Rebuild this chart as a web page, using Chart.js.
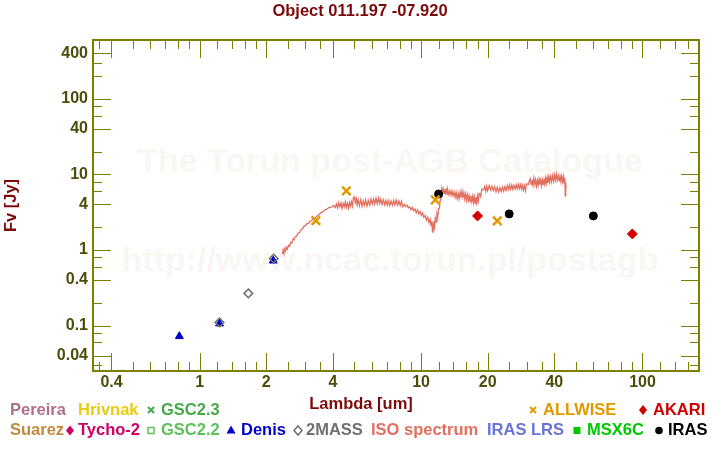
<!DOCTYPE html>
<html>
<head>
<meta charset="utf-8">
<script src="https://cdn.jsdelivr.net/npm/chart.js@4.4.1/dist/chart.umd.min.js"></script>
<style>
html,body{margin:0;padding:0;background:#ffffff;}
#wrap{position:relative;width:720px;height:450px;}
canvas{display:block;}
</style>
</head>
<body>
<div id="wrap"><canvas id="c" width="720" height="450"></canvas></div>
<script>
// ---------- texts ----------
const chartTitle = 'Object 011.197 -07.920';
const xAxisTitle = 'Lambda [um]';
const yAxisTitle = 'Fv [Jy]';
const watermarkLines = ['The Torun post-AGB Catalogue', 'http://www.ncac.torun.pl/postagb'];

// ---------- axes ----------
const xRange = [0.33, 180];
const yRange = [0.025, 600];
const xMajorTicks = [0.4, 1, 2, 4, 10, 20, 40, 100];
const xTickLabels = ['0.4', '1', '2', '4', '10', '20', '40', '100'];
const xMinorTicks = [0.35, 0.5, 0.6, 0.7, 0.8, 0.9, 1.2, 1.4, 1.6, 1.8, 2.5, 3, 3.5,
  5, 6, 7, 8, 9, 12, 14, 16, 18, 25, 30, 35, 50, 60, 70, 80, 90, 120, 140, 160];
const yMajorTicks = [400, 100, 40, 10, 4, 1, 0.4, 0.1, 0.04];
const yTickLabels = ['400', '100', '40', '10', '4', '1', '0.4', '0.1', '0.04'];
const yMinorTicks = [600, 300, 200, 80, 60, 20, 8, 6, 2, 0.8, 0.6, 0.2, 0.08, 0.06, 0.03];

// ---------- photometry (lambda [um], flux [Jy]) ----------
const allwiseLambda = [3.35, 4.6, 11.6, 22.1];
const allwiseFlux = [2.44, 6.05, 4.6, 2.42];
const akariLambda = [18.0, 90.0];
const akariFlux = [2.82, 1.63];
const irasLambda = [12.0, 25.0, 60.0];
const irasFlux = [5.5, 3.0, 2.82];
const tmassLambda = [1.23, 1.66, 2.16];
const tmassFlux = [0.110, 0.266, 0.77];
const denisLambda = [0.81, 1.23, 2.15];
const denisFlux = [0.072, 0.106, 0.72];

// ---------- ISO spectrum [lambda, flux] ----------
const isoSpectrum = [
 [2.37,0.88],[2.38,0.99],[2.40,0.91],[2.42,1.03],[2.44,0.97],[2.46,1.09],[2.49,1.02],[2.52,1.15],[2.55,1.12],
 [2.58,1.26],[2.61,1.24],[2.64,1.39],[2.67,1.36],[2.70,1.50],[2.74,1.51],[2.78,1.67],[2.82,1.68],[2.86,1.84],
 [2.90,1.86],[2.95,2.04],[3.00,2.08],[3.05,2.23],[3.10,2.25],[3.15,2.39],[3.20,2.43],[3.26,2.57],[3.32,2.63],
 [3.38,2.80],[3.45,2.90],[3.52,3.10],[3.60,3.19],[3.68,3.40],[3.76,3.47],[3.85,3.66],[3.94,3.68],[4.03,3.88],
 [4.10,3.66],[4.15,4.06],
 [4.20,3.62],[4.25,4.22],[4.30,3.72],[4.35,4.18],[4.40,3.55],[4.45,4.12],[4.50,3.70],[4.55,4.30],[4.60,3.66],
 [4.65,4.15],[4.70,3.60],[4.75,4.25],[4.80,3.78],[4.85,4.35],[4.90,3.80],[4.95,4.90],[5.00,5.05],[5.05,4.25],
 [5.10,4.75],[5.15,3.95],[5.20,4.60],[5.27,3.85],[5.34,4.62],[5.41,3.78],[5.48,4.45],[5.55,3.88],[5.62,4.58],
 [5.70,3.82],[5.78,4.50],[5.86,3.92],[5.94,4.70],[6.02,4.02],[6.10,4.75],[6.18,4.05],[6.26,4.82],[6.34,4.10],
 [6.42,4.88],[6.50,4.12],[6.58,4.72],[6.67,4.00],[6.76,4.62],[6.85,3.96],[6.94,4.52],[7.03,3.90],[7.12,4.50],
 [7.22,3.86],[7.32,4.45],[7.42,3.90],[7.52,4.52],[7.62,3.94],[7.72,4.56],[7.83,3.90],[7.94,4.45],[8.05,3.85],
 [8.16,4.40],[8.28,3.72],[8.40,4.00],[8.52,3.76],[8.64,3.90],[8.76,3.62],[8.88,3.72],[9.00,3.40],[9.12,3.66],
 [9.25,3.30],[9.38,3.48],[9.51,3.10],[9.64,3.40],[9.77,3.02],[9.90,3.22],[10.03,2.86],[10.16,3.08],[10.30,2.70],
 [10.44,2.86],[10.58,2.48],[10.72,2.72],[10.86,2.30],[11.00,2.55],[11.10,2.10],[11.20,2.40],[11.26,1.72],
 [11.32,2.25],[11.38,1.90],[11.44,2.42],[11.52,2.05],[11.60,2.62],[11.70,2.35],[11.80,3.00],[11.90,2.75],
 [12.00,3.50],[12.10,3.55],[12.20,4.60],[12.30,5.50],[12.40,6.50],
 [12.50,5.50],[12.60,6.35],[12.70,5.60],[12.80,6.40],[12.90,5.65],[13.00,6.25],[13.10,5.50],[13.20,6.20],
 [13.35,5.40],[13.50,6.10],[13.65,5.30],[13.80,6.00],[13.95,5.20],[14.10,5.90],[14.25,5.00],[14.40,5.75],
 [14.55,4.80],[14.70,5.60],[14.85,4.75],[15.00,5.80],[15.15,4.90],[15.30,6.00],[15.45,5.00],[15.60,5.75],
 [15.75,4.70],[15.90,5.50],[16.05,4.55],[16.20,5.40],[16.35,4.50],[16.50,5.20],[16.65,4.35],[16.80,5.25],
 [16.95,4.40],[17.10,5.10],[17.25,4.25],[17.40,5.05],[17.55,4.15],[17.70,5.00],[17.85,4.20],[18.00,5.15],
 [18.15,4.45],[18.30,5.60],[18.45,5.55],[18.60,5.10],[18.80,6.35],[19.00,6.20],[19.20,6.30],[19.40,6.90],
 [19.60,6.00],[19.80,7.00],
 [20.0,6.10],[20.3,7.10],[20.6,6.20],[20.9,7.00],[21.2,6.10],[21.5,6.85],[21.8,5.90],[22.1,6.75],[22.4,5.85],
 [22.7,6.65],[23.0,5.95],[23.3,6.80],[23.6,6.00],[23.9,6.85],[24.2,6.10],[24.5,7.10],[24.8,6.30],[25.1,7.25],
 [25.4,6.35],[25.7,7.20],[26.0,6.30],[26.3,7.15],[26.6,6.40],[26.9,7.25],[27.2,6.45],[27.5,7.35],[27.8,6.50],
 [28.1,7.30],[28.4,6.40],[28.7,7.20],[29.0,6.20],[29.3,7.05],[29.6,6.10],[29.9,7.50],[30.2,7.40],[30.5,7.30],
 [30.8,8.10],[31.1,8.70],[31.4,7.40],[31.7,8.50],[32.0,7.20],[32.3,8.90],[32.6,7.40],[32.9,8.50],[33.2,7.00],
 [33.5,8.30],[33.8,7.20],[34.1,8.60],[34.4,7.30],[34.7,8.40],[35.0,7.10],[35.3,8.50],[35.6,7.40],[35.9,8.80],
 [36.2,7.50],[36.5,8.90],[36.8,7.60],[37.1,9.00],[37.4,7.70],[37.7,9.20],[38.0,7.90],[38.4,9.40],[38.8,8.00],
 [39.2,9.60],[39.6,8.10],[40.0,9.80],[40.4,8.30],[40.8,10.10],[41.2,8.40],[41.6,9.70],[42.0,8.20],[42.4,9.90],
 [42.8,8.10],[43.2,9.50],[43.6,7.90],[44.0,9.30],[44.3,7.70],[44.6,9.00],[44.8,5.20],[45.0,7.80],[45.2,6.60]
];

// ---------- legend ----------
const legendNames = ['Pereira','Hrivnak','GSC2.3','ALLWISE','AKARI',
  'Suarez','Tycho-2','GSC2.2','Denis','2MASS','ISO spectrum','IRAS LRS','MSX6C','IRAS'];

// ---------- styling ----------
const FONT = '"Liberation Sans", Arial, Helvetica, sans-serif';
const FRAME_COLOR = '#808000';
const TICK_LABEL_COLOR = '#4d4d0a';
const TITLE_COLOR = '#7d0a0a';

// legend layout: [name index, color, marker, markerX, textX, row]
const legendLayout = [
  [0, '#b0708a', null, 0, 10, 0],
  [1, '#e8cc10', null, 0, 78, 0],
  [2, '#48a848', 'x', 151, 161, 0],
  [3, '#e09a00', 'x', 533, 543, 0],
  [4, '#d00000', 'diamond', 643, 653, 0],
  [5, '#c08a40', null, 0, 10, 1],
  [6, '#cc0066', 'diamond', 70, 78, 1],
  [7, '#5cc05c', 'openSquare', 151, 161, 1],
  [8, '#0000cc', 'triangle', 231, 241, 1],
  [9, '#707070', 'openDiamond', 298, 306, 1],
  [10, '#e07060', null, 0, 371, 1],
  [11, '#6a74d6', null, 0, 487, 1],
  [12, '#00c800', 'square', 577, 587, 1],
  [13, '#000000', 'circle', 659, 668, 1]
];

function drawMarker(ctx, type, x, y, color) {
  ctx.save();
  ctx.fillStyle = color; ctx.strokeStyle = color; ctx.lineWidth = 2;
  ctx.beginPath();
  switch (type) {
    case 'x':
      ctx.moveTo(x - 3, y - 3); ctx.lineTo(x + 3, y + 3);
      ctx.moveTo(x + 3, y - 3); ctx.lineTo(x - 3, y + 3); ctx.stroke(); break;
    case 'diamond':
      ctx.moveTo(x, y - 5); ctx.lineTo(x + 4, y); ctx.lineTo(x, y + 5); ctx.lineTo(x - 4, y); ctx.closePath(); ctx.fill(); break;
    case 'openDiamond':
      ctx.lineWidth = 1.5;
      ctx.moveTo(x, y - 4.5); ctx.lineTo(x + 4, y); ctx.lineTo(x, y + 4.5); ctx.lineTo(x - 4, y); ctx.closePath(); ctx.stroke(); break;
    case 'openSquare':
      ctx.lineWidth = 1.5; ctx.strokeRect(x - 3, y - 3, 6, 6); break;
    case 'triangle':
      ctx.moveTo(x, y - 5); ctx.lineTo(x + 4.5, y + 3); ctx.lineTo(x - 4.5, y + 3); ctx.closePath(); ctx.fill(); break;
    case 'square':
      ctx.fillRect(x - 3.5, y - 3.5, 7, 7); break;
    case 'circle':
      ctx.arc(x, y, 3.8, 0, Math.PI * 2); ctx.fill(); break;
  }
  ctx.restore();
}

const decorPlugin = {
  id: 'decor',
  beforeDatasetsDraw(chart) {
    const ctx = chart.ctx;
    ctx.save();
    ctx.fillStyle = '#faf7f2';
    ctx.font = 'bold 34px ' + FONT;
    ctx.textAlign = 'center';
    ctx.textBaseline = 'middle';
    ctx.fillText(watermarkLines[0], 390, 163);
    ctx.fillText(watermarkLines[1], 390, 262);
    ctx.restore();
  },
  afterDatasetsDraw(chart) {
    const ctx = chart.ctx, a = chart.chartArea;
    const xs = chart.scales.x, ys = chart.scales.y;
    ctx.save();
    ctx.strokeStyle = FRAME_COLOR;
    ctx.lineWidth = 1;
    const tick = (vals, len) => {
      vals.forEach(v => {
        const px = Math.round(xs.getPixelForValue(v)) + 0.5;
        if (px < a.left - 1 || px > a.right + 1) return;
        ctx.beginPath();
        ctx.moveTo(px, a.bottom); ctx.lineTo(px, a.bottom - len);
        ctx.moveTo(px, a.top); ctx.lineTo(px, a.top + len);
        ctx.stroke();
      });
    };
    const ytick = (vals, len) => {
      vals.forEach(v => {
        const py = Math.round(ys.getPixelForValue(v)) + 0.5;
        if (py < a.top - 1 || py > a.bottom + 1) return;
        ctx.beginPath();
        ctx.moveTo(a.left, py); ctx.lineTo(a.left + len, py);
        ctx.moveTo(a.right, py); ctx.lineTo(a.right - len, py);
        ctx.stroke();
      });
    };
    tick(xMajorTicks, 18); tick(xMinorTicks, 9);
    ytick(yMajorTicks, 18); ytick(yMinorTicks, 9);
    ctx.lineWidth = 2;
    ctx.strokeRect(a.left, a.top, a.right - a.left, a.bottom - a.top);
    ctx.restore();
  },
  afterDraw(chart) {
    const ctx = chart.ctx, a = chart.chartArea;
    ctx.save();
    ctx.fillStyle = TITLE_COLOR;
    ctx.font = 'bold 16.5px ' + FONT;
    ctx.textAlign = 'center';
    ctx.textBaseline = 'middle';
    ctx.fillText(xAxisTitle, 361, 404);
    ctx.save();
    ctx.translate(11, (a.top + a.bottom) / 2);
    ctx.rotate(-Math.PI / 2);
    ctx.fillText(yAxisTitle, 0, 0);
    ctx.restore();
    ctx.textAlign = 'left';
    const rowY = [410, 430.5];
    legendLayout.forEach(([idx, color, mk, mx, tx, row]) => {
      const y = rowY[row];
      if (mk) drawMarker(ctx, mk, mx, y, color);
      ctx.fillStyle = color;
      ctx.fillText(legendNames[idx], tx, y);
    });
    ctx.restore();
  }
};

const pts = (xs, ys) => xs.map((x, i) => ({ x: x, y: ys[i] }));

new Chart(document.getElementById('c'), {
  type: 'scatter',
  data: {
    datasets: [
      { label: 'ALLWISE', data: pts(allwiseLambda, allwiseFlux), pointStyle: 'crossRot', pointRadius: 6,
        borderColor: '#e09a00', backgroundColor: '#e09a00', borderWidth: 2.5 },
      { label: 'AKARI', data: pts(akariLambda, akariFlux), pointStyle: 'rectRot', pointRadius: 5,
        borderColor: '#d40000', backgroundColor: '#d40000', borderWidth: 1 },
      { label: 'IRAS', data: pts(irasLambda, irasFlux), pointStyle: 'circle', pointRadius: 4,
        borderColor: '#000000', backgroundColor: '#000000', borderWidth: 1 },
      { label: '2MASS', data: pts(tmassLambda, tmassFlux), pointStyle: 'rectRot', pointRadius: 4.3,
        borderColor: '#6e6e6e', backgroundColor: 'rgba(0,0,0,0)', borderWidth: 1.5 },
      { label: 'Denis', data: pts(denisLambda, denisFlux), pointStyle: 'triangle', pointRadius: 4.6,
        borderColor: '#0000c8', backgroundColor: '#0000c8', borderWidth: 1 },
      { label: 'ISO spectrum', data: isoSpectrum.map(p => ({ x: p[0], y: p[1] })), showLine: true,
        pointRadius: 0, borderColor: '#e07060', backgroundColor: '#e07060', borderWidth: 1.3, fill: false, tension: 0 }
    ]
  },
  options: {
    responsive: false,
    animation: false,
    devicePixelRatio: 1,
    events: [],
    layout: { padding: { top: 0, left: 21, right: 21, bottom: 0 } },
    plugins: {
      legend: { display: false },
      tooltip: { enabled: false },
      title: {
        display: true, text: chartTitle, color: TITLE_COLOR,
        font: { family: FONT, size: 16.5, weight: 'bold', lineHeight: 1.2 },
        padding: { top: 2, bottom: 18.2 }
      }
    },
    scales: {
      x: {
        type: 'logarithmic', position: 'bottom', min: xRange[0], max: xRange[1], bounds: 'data',
        grid: { display: false, drawTicks: false },
        border: { display: false },
        afterBuildTicks: s => { s.ticks = xMajorTicks.concat(xMinorTicks).sort((p, q) => p - q).map(v => ({ value: v })); },
        afterFit: s => { s.height = 79; },
        ticks: {
          autoSkip: false, maxRotation: 0, minRotation: 0, padding: 2,
          color: TICK_LABEL_COLOR, font: { family: FONT, size: 16, weight: 'bold' },
          callback: v => { const i = xMajorTicks.indexOf(v); return i >= 0 ? xTickLabels[i] : ''; }
        }
      },
      y: {
        type: 'logarithmic', position: 'left', min: yRange[0], max: yRange[1], bounds: 'data',
        grid: { display: false, drawTicks: false },
        border: { display: false },
        afterBuildTicks: s => { s.ticks = yMajorTicks.concat(yMinorTicks).sort((p, q) => p - q).map(v => ({ value: v })); },
        afterFit: s => { s.width = 72; },
        ticks: {
          autoSkip: false, padding: 5,
          color: TICK_LABEL_COLOR, font: { family: FONT, size: 16, weight: 'bold' },
          callback: v => { const i = yMajorTicks.indexOf(v); return i >= 0 ? yTickLabels[i] : ''; }
        }
      }
    }
  },
  plugins: [decorPlugin]
});
</script>
</body>
</html>
